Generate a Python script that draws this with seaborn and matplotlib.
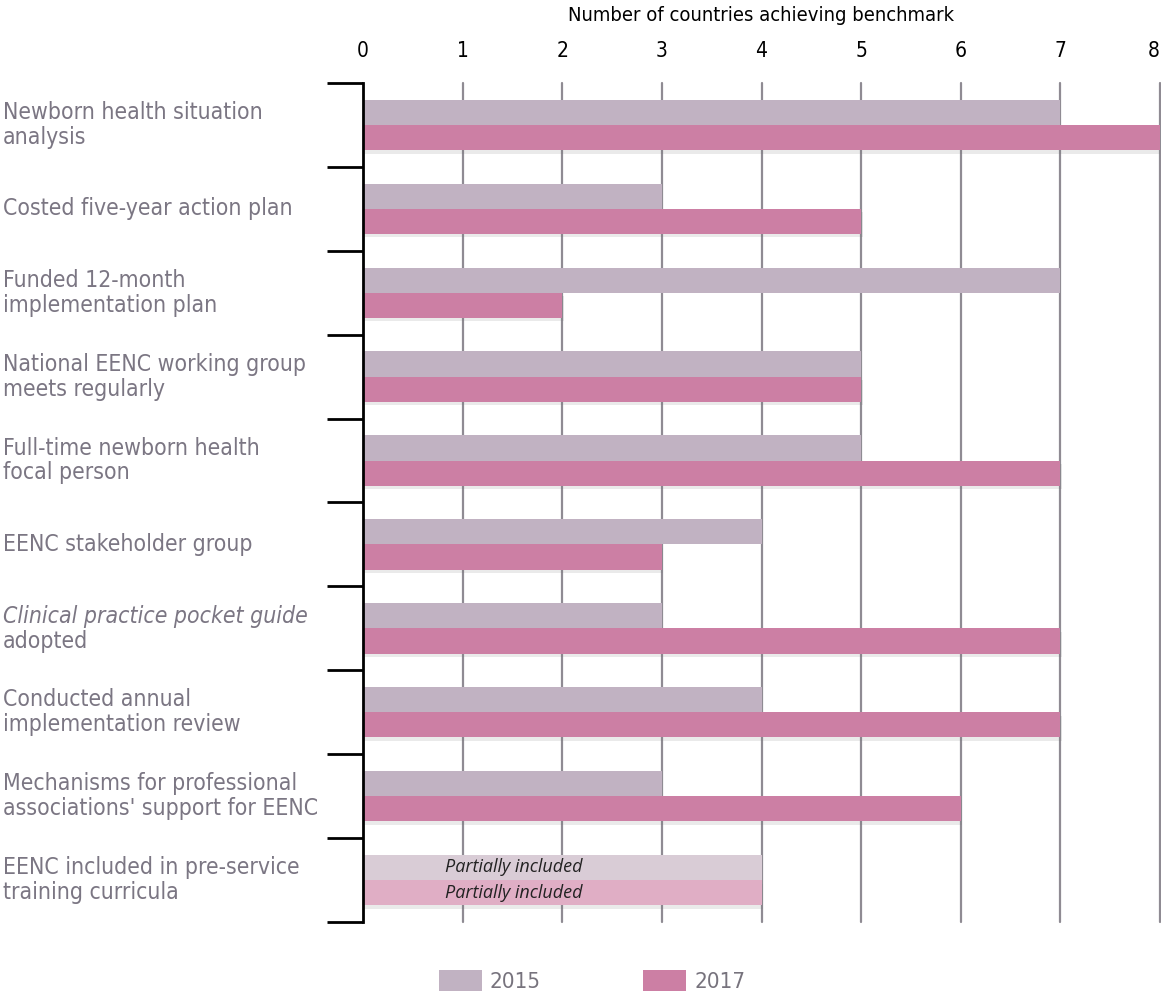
import matplotlib
matplotlib.use("Agg")
import matplotlib.pyplot as plt
import matplotlib.patheffects as pe
from matplotlib.patches import Patch
import seaborn as sns
import pandas as pd
import numpy as np

categories = [
    "Newborn health situation\nanalysis",
    "Costed five-year action plan",
    "Funded 12-month\nimplementation plan",
    "National EENC working group\nmeets regularly",
    "Full-time newborn health\nfocal person",
    "EENC stakeholder group",
    "Clinical practice pocket guide\nadopted",
    "Conducted annual\nimplementation review",
    "Mechanisms for professional\nassociations' support for EENC",
    "EENC included in pre-service\ntraining curricula",
]
values_2015 = [7, 3, 7, 5, 5, 4, 3, 4, 3, 4]
values_2017 = [8, 5, 2, 5, 7, 3, 7, 7, 6, 4]
years = ["2015", "2017"]
partial_note = "Partially included"
x_ticks = [0, 1, 2, 3, 4, 5, 6, 7, 8]
x_title = "Number of countries achieving benchmark"

col_2015 = "#c1b2c2"
col_2017 = "#cc7fa4"
col_2015_light = "#d9ccd6"
col_2017_light = "#e0aec5"
label_grey = "#7b7683"
grid_grey = "#8f8b93"

df = pd.DataFrame({
    "category": categories * 2,
    "value": values_2015 + values_2017,
    "year": [years[0]] * len(categories) + [years[1]] * len(categories),
})

sns.set_theme(style="white")
plt.rcParams["font.family"] = ["DejaVu Sans"]
plt.rcParams["font.stretch"] = "condensed"

fig = plt.figure(figsize=(11.61, 9.94), dpi=100)
ax = fig.add_axes([363 / 1161, 1 - 922 / 994, (1160 - 363) / 1161, (922 - 83) / 994])

sns.barplot(data=df, x="value", y="category", hue="year", order=categories,
            hue_order=years, palette=[col_2015, col_2017], width=0.6,
            orient="h", ax=ax, legend=False, zorder=3, saturation=1)

shadow = [pe.SimplePatchShadow(offset=(1.0, -2.5), shadow_rgbFace="#707070", alpha=0.14),
          pe.Normal()]
light = [col_2015_light, col_2017_light]
for ci, cont in enumerate(ax.containers):
    for bi, bar in enumerate(cont):
        bar.set_edgecolor("none")
        if ci == 1:
            bar.set_path_effects(shadow)
        if bi == len(categories) - 1:
            bar.set_facecolor(light[ci])
            y = bar.get_y() + bar.get_height() / 2
            ax.text(0.82, y, partial_note, ha="left", va="center", fontsize=13,
                    style="italic", color="#222222", zorder=5,
                    family=["Open Sans", "DejaVu Sans"], stretch="normal")

ax.set_xlim(0, 8)
ax.set_ylim(len(categories) - 0.5, -0.5)

# vertical grid lines behind the bars
for xv in x_ticks[1:]:
    ax.axvline(xv, color=grid_grey, lw=1.6, zorder=1, clip_on=False)

for side in ["top", "right", "bottom"]:
    ax.spines[side].set_visible(False)
ax.spines["left"].set_color("black")
ax.spines["left"].set_linewidth(2)
ax.spines["left"].set_zorder(6)

ax.xaxis.tick_top()
ax.xaxis.set_label_position("top")
ax.set_xticks(x_ticks)
ax.set_xticklabels([str(t) for t in x_ticks], fontsize=15, color="black")
ax.get_xticklabels()[-1].set_horizontalalignment("right")
ax.tick_params(axis="x", length=0, pad=16)
ax.set_xlabel(x_title, fontsize=14.5, color="black", labelpad=14)

ax.set_yticks([])
ax.set_yticks(np.arange(-0.5, len(categories), 1.0), minor=True)
ax.tick_params(axis="y", which="minor", left=True, length=26, width=2,
               color="black", direction="out")
ax.set_ylabel("")

# category labels, left-aligned at the figure edge
trans = matplotlib.transforms.blended_transform_factory(fig.transFigure, ax.transData)
for i, cat in enumerate(categories):
    if cat.startswith("Clinical practice pocket guide"):
        first, second = cat.split("\n")
        ax.text(3 / 1161, i - 0.145, first, transform=trans, ha="left", va="center",
                fontsize=16.5, color=label_grey, style="italic")
        ax.text(3 / 1161, i + 0.155, second, transform=trans, ha="left", va="center",
                fontsize=16.5, color=label_grey)
    else:
        ax.text(3 / 1161, i, cat, transform=trans, ha="left", va="center",
                fontsize=16.5, color=label_grey, linespacing=1.1)

handles = [Patch(facecolor=col_2015, edgecolor="none"),
           Patch(facecolor=col_2017, edgecolor="none")]
leg = fig.legend(handles, years, loc="lower center", bbox_to_anchor=(0.51, -0.018),
                 ncol=2, frameon=False, fontsize=16, handlelength=1.95,
                 handleheight=1.1, handletextpad=0.35, columnspacing=4.6)
for t in leg.get_texts():
    t.set_color("#77737d")

fig.savefig("out.png", dpi=100)
